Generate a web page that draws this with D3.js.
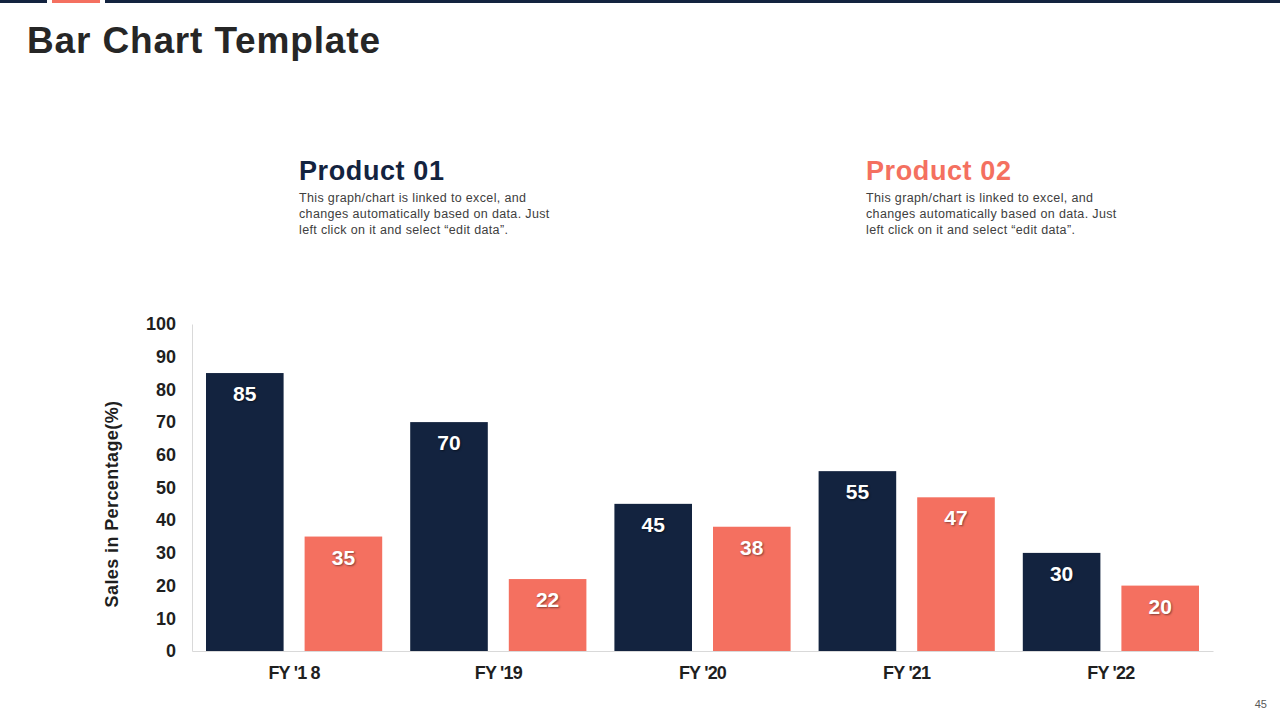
<!DOCTYPE html>
<html>
<head>
<meta charset="utf-8">
<style>
  body { margin: 0; background: #fff; }
  svg { display: block; font-family: "Liberation Sans", Arial, sans-serif; }
</style>
</head>
<body>
<svg width="1280" height="720"></svg>
<script src="https://d3js.org/d3.v7.min.js"></script>
<script>
const categories = ["FY '1 8", "FY '19", "FY '20", "FY '21", "FY '22"];
const seriesNames = ["Product 01", "Product 02"];
const product01 = [85, 70, 45, 55, 30];
const product02 = [35, 22, 38, 47, 20];
const yTicks = [0, 10, 20, 30, 40, 50, 60, 70, 80, 90, 100];
const blurb = ["This graph/chart is linked to excel, and",
               "changes automatically based on data. Just",
               "left click on it and select \u201cedit data\u201d."];

const navy = "#13233f", salmon = "#f47060";
const colors = [navy, salmon];
const svg = d3.select("svg");

// top decoration strip
svg.append("rect").attr("x", 0).attr("y", 0).attr("width", 47).attr("height", 3).attr("fill", navy);
svg.append("rect").attr("x", 52).attr("y", 0).attr("width", 48).attr("height", 3).attr("fill", salmon);
svg.append("rect").attr("x", 105).attr("y", 0).attr("width", 1175).attr("height", 3).attr("fill", navy);

svg.append("text").attr("x", 27).attr("y", 53)
  .attr("font-size", 37).attr("font-weight", "bold").attr("fill", "#262626")
  .attr("letter-spacing", 0.85)
  .text("Bar Chart Template");

// legend blocks
const legendX = [299, 866];
seriesNames.forEach((name, i) => {
  svg.append("text").attr("x", legendX[i]).attr("y", 180)
    .attr("font-size", 27).attr("font-weight", "bold").attr("fill", colors[i])
    .attr("letter-spacing", 0.6)
    .text(name);
  svg.append("g").selectAll("text").data(blurb).join("text")
    .attr("x", legendX[i]).attr("y", (d, j) => 202 + j * 16)
    .attr("font-size", 12.5).attr("fill", "#404040").attr("letter-spacing", 0.35)
    .text(d => d);
});

// chart
const plotL = 192, plotR = 1213, plotT = 324, plotB = 651;
const x0 = d3.scaleBand().domain(categories).range([plotL, plotR]);
const x1 = d3.scaleBand().domain(seriesNames).range([0, x0.bandwidth()])
  .paddingInner(0.213).paddingOuter(0.142);
const y = d3.scaleLinear().domain([0, 100]).range([plotB, plotT]);

const yAxis = svg.append("g").attr("transform", `translate(${plotL},0)`)
  .call(d3.axisLeft(y).tickValues(yTicks).tickSize(0).tickPadding(16));
yAxis.select(".domain").attr("stroke", "#d9d9d9");
yAxis.selectAll("text").attr("font-size", 18).attr("font-weight", "bold")
  .attr("fill", "#1f1f1f").attr("font-family", "Liberation Sans, Arial, sans-serif");

const xAxis = svg.append("g").attr("transform", `translate(0,${plotB})`)
  .call(d3.axisBottom(x0).tickSize(0).tickPadding(15));
xAxis.select(".domain").attr("stroke", "#d9d9d9");
xAxis.selectAll("text").attr("font-size", 18).attr("font-weight", "bold")
  .attr("fill", "#1f1f1f").attr("letter-spacing", -0.8)
  .attr("font-family", "Liberation Sans Narrow, Liberation Sans, Arial, sans-serif");

svg.append("text")
  .attr("transform", `translate(118,504) rotate(-90)`)
  .attr("text-anchor", "middle").attr("font-size", 18).attr("font-weight", "bold")
  .attr("fill", "#1f1f1f").attr("letter-spacing", 0.4).text("Sales in Percentage(%)");

const rows = categories.map((c, i) => ({ cat: c, vals: [product01[i], product02[i]] }));
const groups = svg.append("g").selectAll("g").data(rows).join("g")
  .attr("transform", d => `translate(${x0(d.cat)},0)`);

const bars = groups.selectAll("g").data(d => d.vals.map((v, k) => ({ s: seriesNames[k], v, k }))).join("g");
bars.append("rect")
  .attr("x", d => x1(d.s)).attr("y", d => y(d.v))
  .attr("width", x1.bandwidth()).attr("height", d => plotB - y(d.v))
  .attr("fill", d => colors[d.k]);
bars.append("text")
  .attr("x", d => x1(d.s) + x1.bandwidth() / 2).attr("y", d => y(d.v) + 28)
  .attr("text-anchor", "middle").attr("font-size", 21).attr("font-weight", "bold")
  .attr("fill", "#fff").style("text-shadow", "1px 1px 2px rgba(0,0,0,0.45)")
  .text(d => d.v);

svg.append("text").attr("x", 1267).attr("y", 708).attr("text-anchor", "end")
  .attr("font-size", 11).attr("fill", "#595959").text("45");
</script>
</body>
</html>
